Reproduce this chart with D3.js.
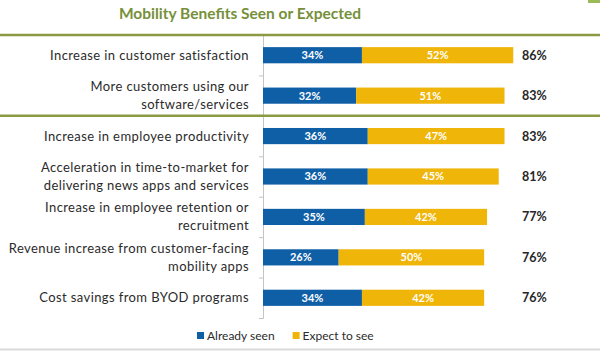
<!DOCTYPE html>
<html lang="en">
<head>
<meta charset="UTF-8">
<title>Mobility Benefits Seen or Expected</title>
<style>
    body {
        margin: 0;
        background: #ffffff;
        overflow: hidden;
    }
    svg text {
        font-family: Lato, "Open Sans", sans-serif;
    }
</style>
</head>
<body>
<svg id="chart" width="600" height="351"></svg>
<script src="https://d3js.org/d3.v7.min.js"></script>
<script>
const categories = [
    ["Increase in customer satisfaction"],
    ["More customers using our", "software/services"],
    ["Increase in employee productivity"],
    ["Acceleration in time-to-market for", "delivering news apps and services"],
    ["Increase in employee retention or", "recruitment"],
    ["Revenue increase from customer-facing", "mobility apps"],
    ["Cost savings from BYOD programs"]
];
const alreadySeen = [34, 32, 36, 36, 35, 26, 34];
const expectToSee = [52, 51, 47, 45, 42, 50, 42];
const totals = [86, 83, 83, 81, 77, 76, 76];
const seriesNames = ["Already seen", "Expect to see"];

const colors = ["#0f5fa7", "#efb508"];
const green = "#8a9b44";

const svg = d3.select("#chart");
const W = 600, H = 351;

const x = d3.scaleLinear().domain([0, 100]).range([263, 554]);
const y = d3.scaleBand().domain(d3.range(categories.length)).range([35, 318]).paddingInner(0.6).paddingOuter(0.3);
const rows = d3.scaleBand().domain(d3.range(categories.length)).range([35, 318]);

// title
svg.append("text")
    .attr("x", 240).attr("y", 19)
    .attr("text-anchor", "middle")
    .attr("font-size", 15.5).attr("font-weight", "bold")
    .attr("fill", "#76903a")
    .text("Mobility Benefits Seen or Expected");

// little corner mark top right
svg.append("rect").attr("x", 588).attr("y", 0).attr("width", 12).attr("height", 3).attr("fill", "#9bbb59");

// axis with ticks at row boundaries
const axis = d3.axisLeft(d3.scaleLinear().domain([0, categories.length]).range([35, 318]))
    .ticks(categories.length).tickSize(4).tickFormat("");
const ax = svg.append("g").attr("transform", "translate(263,0)").call(axis);
ax.selectAll("path, line").attr("stroke", "#c4c4c4");

// separator lines
[0, 2].forEach(i => {
    svg.append("line")
        .attr("x1", 0).attr("x2", W)
        .attr("y1", rows(i)).attr("y2", rows(i))
        .attr("stroke", green).attr("stroke-width", 2.5);
});

// bars
const stacked = categories.map((c, i) => [
    { x0: 0, x1: alreadySeen[i], v: alreadySeen[i], s: 0 },
    { x0: alreadySeen[i], x1: alreadySeen[i] + expectToSee[i], v: expectToSee[i], s: 1 }
]);

const rowG = svg.selectAll("g.row").data(stacked).join("g").attr("class", "row");

rowG.each(function(d, i) {
    const g = d3.select(this);
    const cy = y(i) + y.bandwidth() / 2;
    g.selectAll("rect").data(d).join("rect")
        .attr("x", seg => x(seg.x0))
        .attr("width", seg => x(seg.x1) - x(seg.x0))
        .attr("y", y(i))
        .attr("height", y.bandwidth())
        .attr("fill", seg => colors[seg.s]);
    d.forEach(seg => {
        g.append("text")
            .attr("x", (x(seg.x0) + x(seg.x1)) / 2)
            .attr("y", cy).attr("dy", "0.36em")
            .attr("text-anchor", "middle")
            .attr("font-size", 11).attr("font-weight", "bold")
            .attr("fill", "#ffffff")
            .text(seg.v + "%");
    });
    g.append("text")
        .attr("x", 522).attr("y", cy).attr("dy", "0.36em")
        .attr("font-size", 12.5).attr("font-weight", "bold")
        .attr("fill", "#262626")
        .text(totals[i] + "%");

    const lines = categories[i];
    const lh = 18;
    const t = g.append("text")
        .attr("text-anchor", "end")
        .attr("font-size", 13)
        .attr("letter-spacing", 0.4)
        .attr("fill", "#2b2b2b");
    lines.forEach((l, k) => {
        t.append("tspan")
            .attr("x", 249)
            .attr("y", cy + (k - (lines.length - 1) / 2) * lh)
            .attr("dy", "0.35em")
            .text(l);
    });
});

// legend
const legend = svg.append("g").attr("transform", "translate(197,336)");
let lx = 0;
seriesNames.forEach((name, i) => {
    legend.append("rect").attr("x", lx).attr("y", -4).attr("width", 7).attr("height", 7).attr("fill", colors[i]);
    const t = legend.append("text").attr("x", lx + 10).attr("y", 0).attr("dy", "0.35em")
        .attr("font-size", 12).attr("fill", "#2b2b2b").text(name);
    lx += 10 + t.node().getComputedTextLength() + 18;
});

// bottom border
svg.append("line").attr("x1", 0).attr("x2", W).attr("y1", H - 1.5).attr("y2", H - 1.5)
    .attr("stroke", "#d9d9d9").attr("stroke-width", 2);
</script>
</body>
</html>
